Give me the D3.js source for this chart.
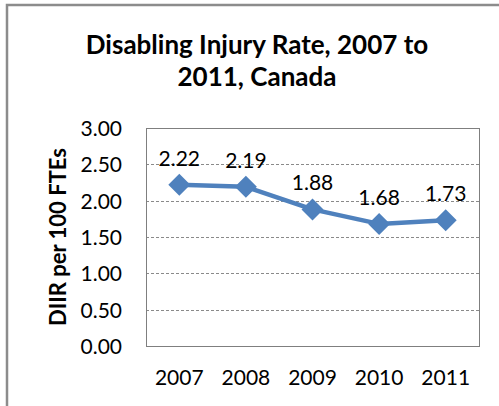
<!DOCTYPE html>
<html>
<head>
<meta charset="utf-8">
<title>Disabling Injury Rate</title>
<script src="https://cdn.jsdelivr.net/npm/d3@7"></script>
<style>
  body { margin: 0; background: #fff; }
  text { font-family: Lato, "Open Sans", sans-serif; fill: #000; }
</style>
</head>
<body>
<div id="chart"></div>
<script>
// data
const years = ["2007", "2008", "2009", "2010", "2011"];
const rates = [2.22, 2.19, 1.88, 1.68, 1.73];
const yTicks = [0, 0.5, 1, 1.5, 2, 2.5, 3];
const titleLines = ["Disabling Injury Rate, 2007 to", "2011, Canada"];

const W = 499, H = 406;
const plot = { left: 146, top: 128, right: 479, bottom: 346 };

const svg = d3.select("#chart").append("svg")
    .attr("width", W).attr("height", H);

// outer chart frame
svg.append("rect")
    .attr("x", 7).attr("y", 5)
    .attr("width", W).attr("height", H)
    .attr("fill", "#fff")
    .attr("stroke", "#8c8c8c").attr("stroke-width", 2.5);

// title
svg.append("g").selectAll("text")
    .data(titleLines)
    .join("text")
    .attr("x", 257)
    .attr("y", (d, i) => 54 + i * 32)
    .attr("text-anchor", "middle")
    .attr("font-size", 26)
    .attr("font-weight", "bold")
    .text(d => d);

const x = d3.scaleBand().domain(years).range([plot.left, plot.right]);
const y = d3.scaleLinear().domain([0, 3]).range([plot.bottom, plot.top]);

// gridlines
svg.append("g").selectAll("line")
    .data(yTicks.filter(d => d > 0 && d < 3))
    .join("line")
    .attr("x1", plot.left).attr("x2", plot.right)
    .attr("y1", d => Math.round(y(d)) + 0.5).attr("y2", d => Math.round(y(d)) + 0.5)
    .attr("stroke", "#8a8a8a")
    .attr("stroke-dasharray", "3,2");

// plot area border
svg.append("rect")
    .attr("x", plot.left + 0.5).attr("y", plot.top + 0.5)
    .attr("width", plot.right - plot.left).attr("height", plot.bottom - plot.top)
    .attr("fill", "none")
    .attr("stroke", "#7f7f7f");

// y axis
const yAxis = svg.append("g")
    .attr("transform", `translate(${plot.left},0)`)
    .call(d3.axisLeft(y).tickValues(yTicks).tickFormat(d3.format(".2f")).tickSize(0).tickPadding(24));
yAxis.select(".domain").remove();
yAxis.selectAll("text").attr("font-size", 21).attr("font-family", "Lato, sans-serif").attr("dy", "0.35em");

// x axis
const xAxis = svg.append("g")
    .attr("transform", `translate(0,${plot.bottom})`)
    .call(d3.axisBottom(x).tickSize(0).tickPadding(24));
xAxis.select(".domain").remove();
xAxis.selectAll("text").attr("font-size", 21).attr("font-family", "Lato, sans-serif");

// y axis title
svg.append("text")
    .attr("transform", "translate(66,237) rotate(-90)")
    .attr("text-anchor", "middle")
    .attr("font-size", 22)
    .attr("font-weight", "bold")
    .text("DIIR per 100 FTEs");

const cx = d => x(d) + x.bandwidth() / 2;

// line
svg.append("path")
    .datum(rates)
    .attr("fill", "none")
    .attr("stroke", "#4f81bd")
    .attr("stroke-width", 4.5)
    .attr("stroke-linejoin", "round")
    .attr("d", d3.line().x((d, i) => cx(years[i])).y(d => y(d)));

// diamond markers
svg.append("g").selectAll("path")
    .data(rates)
    .join("path")
    .attr("transform", (d, i) => `translate(${cx(years[i])},${y(d)})`)
    .attr("d", "M0,-11L11,0L0,11L-11,0Z")
    .attr("fill", "#4f81bd");

// value labels
svg.append("g").selectAll("text")
    .data(rates)
    .join("text")
    .attr("x", (d, i) => cx(years[i]))
    .attr("y", d => y(d) - 19)
    .attr("text-anchor", "middle")
    .attr("font-size", 21)
    .text(d => d.toFixed(2));
</script>
</body>
</html>
